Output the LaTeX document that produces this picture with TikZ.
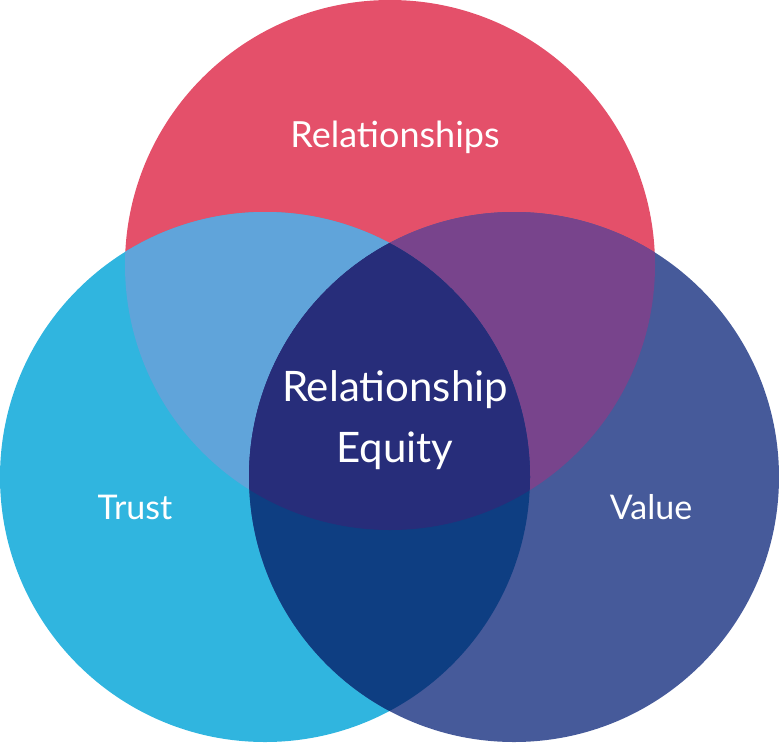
\documentclass[tikz,border=0pt]{standalone}
\usepackage{fontspec}
\setmainfont{Lato}
\definecolor{cR}{HTML}{E4506A}
\definecolor{cT}{HTML}{30B5DF}
\definecolor{cV}{HTML}{465A9A}
\definecolor{cRT}{HTML}{60A4DA}
\definecolor{cRV}{HTML}{78448C}
\definecolor{cTV}{HTML}{0E3E82}
\definecolor{cC}{HTML}{272D7A}
\tikzset{lbl/.style={text=white,font=\fontsize{34}{40}\selectfont,inner sep=0pt}}
\begin{document}
\begin{tikzpicture}[x=1pt,y=-1pt]
\useasboundingbox (0,0) rectangle (779,742);
\def\cRel{(390,265) circle (265)}
\def\cTr{(265,477) circle (265)}
\def\cVa{(514,477) circle (265)}
\fill[cR] \cRel;
\fill[cT] \cTr;
\fill[cV] \cVa;
\begin{scope}\clip \cRel; \fill[cRT] \cTr; \fill[cRV] \cVa; \end{scope}
\begin{scope}\clip \cTr; \fill[cTV] \cVa; \end{scope}
\begin{scope}\clip \cRel; \clip \cTr; \fill[cC] \cVa; \end{scope}
\node[lbl,anchor=base,font=\fontsize{36}{40}\selectfont] (rel) at (395,147) {Relationships};
\node[lbl,anchor=base] (tr) at (135,519) {Trust};
\node[lbl,anchor=base] (va) at (651,519) {Value};
\node[lbl,anchor=base,font=\fontsize{42}{61}\selectfont,align=center] (eq) at (395,462) {Relationship\\Equity};
\end{tikzpicture}
\end{document}
